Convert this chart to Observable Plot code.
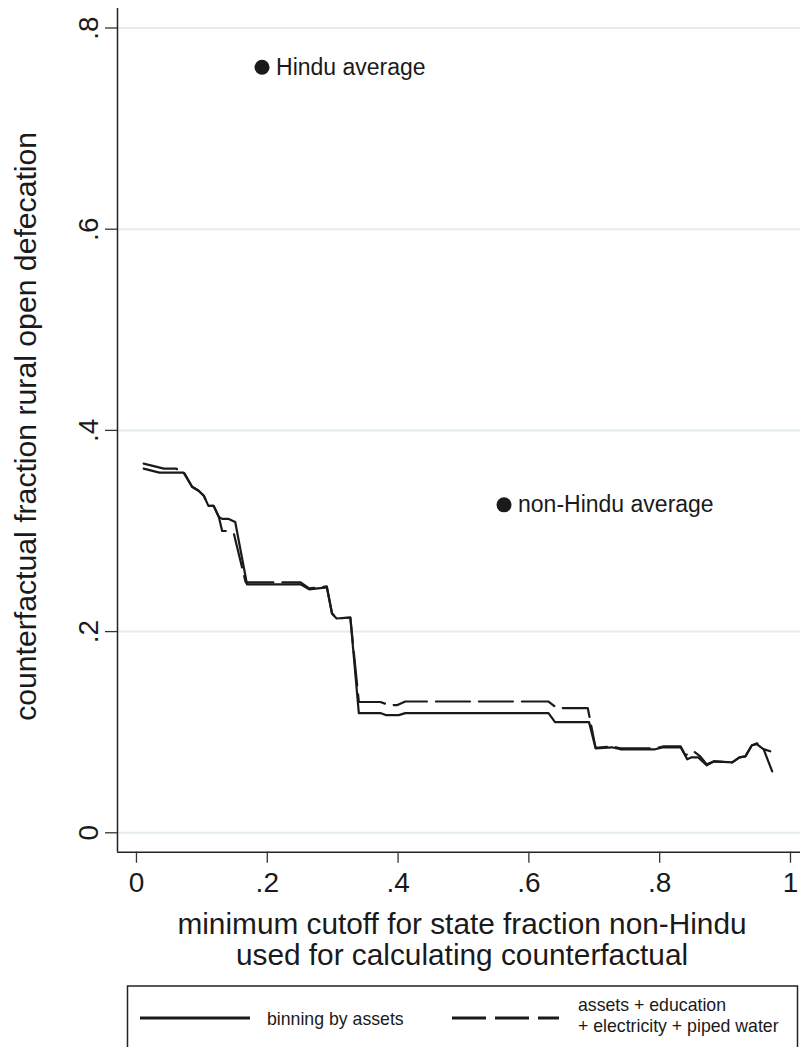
<!DOCTYPE html>
<html><head><meta charset="utf-8">
<script src="https://cdn.jsdelivr.net/npm/d3@7"></script>
<script src="https://cdn.jsdelivr.net/npm/@observablehq/plot@0.6"></script>
<style>
body{margin:0;background:#fff;font-family:"Liberation Sans",Arial,sans-serif;}
#wrap{width:804px;height:1047px;overflow:hidden;}
#wrap svg{display:block;}
</style></head><body><div id="wrap"></div>
<script>
// binning by assets (solid)
const assetsX = [0.011,0.035,0.072,0.085,0.095,0.103,0.110,0.118,0.126,0.131,0.141,0.151,0.169,0.251,0.264,0.291,0.299,0.306,0.327,0.340,0.373,0.381,0.401,0.411,0.630,0.640,0.692,0.702,0.727,0.740,0.793,0.806,0.832,0.839,0.842,0.849,0.859,0.872,0.883,0.911,0.922,0.931,0.941,0.949,0.959,0.972];
const assetsY = [0.362,0.358,0.358,0.344,0.340,0.335,0.325,0.325,0.314,0.312,0.312,0.309,0.247,0.247,0.242,0.244,0.218,0.213,0.214,0.119,0.119,0.117,0.117,0.119,0.119,0.110,0.110,0.084,0.085,0.083,0.083,0.085,0.085,0.077,0.073,0.075,0.075,0.067,0.071,0.070,0.075,0.076,0.087,0.088,0.083,0.061];
// assets + education + electricity + piped water (dashed)
const eduX = [0.011,0.042,0.060,0.072,0.085,0.095,0.103,0.110,0.118,0.126,0.131,0.137,0.149,0.167,0.251,0.264,0.291,0.299,0.306,0.327,0.340,0.373,0.386,0.399,0.411,0.630,0.643,0.690,0.702,0.727,0.740,0.793,0.806,0.832,0.839,0.852,0.862,0.872,0.883,0.911,0.922,0.931,0.941,0.949,0.959,0.969];
const eduY = [0.367,0.362,0.362,0.359,0.344,0.340,0.335,0.325,0.325,0.314,0.300,0.300,0.297,0.249,0.249,0.243,0.245,0.218,0.213,0.214,0.130,0.130,0.127,0.127,0.1305,0.1305,0.124,0.124,0.0845,0.086,0.084,0.084,0.086,0.086,0.077,0.081,0.076,0.068,0.071,0.070,0.075,0.076,0.087,0.089,0.083,0.081];

const pointLabels = ["Hindu average", "non-Hindu average"];
const pointX = [0.192, 0.562];
const pointY = [0.761, 0.326];

const xTicks = [0, 0.2, 0.4, 0.6, 0.8, 1];
const xTickLabels = ["0", ".2", ".4", ".6", ".8", "1"];
const yTicks = [0, 0.2, 0.4, 0.6, 0.8];
const yTickLabels = ["0", ".2", ".4", ".6", ".8"];
const xDomain = [-0.029, 1.0153];
const yDomain = [-0.0193, 0.8194];

const seriesNames = ["binning by assets", "assets + education\n+ electricity + piped water"];
const xTitle = "minimum cutoff for state fraction non-Hindu\nused for calculating counterfactual";
const yTitle = "counterfactual fraction rural open defecation";

const ink = "#1a1a1a";
const solid = assetsX.map((x, i) => ({x, y: assetsY[i]}));
const dashed = eduX.map((x, i) => ({x, y: eduY[i]}));
const pts = pointX.map((x, i) => ({x, y: pointY[i], label: pointLabels[i]}));

const plot = Plot.plot({
  width: 804, height: 975,
  marginLeft: 117, marginRight: 4, marginTop: 8, marginBottom: 123.3,
  x: {domain: xDomain},
  y: {domain: yDomain},
  style: {fontFamily: "'Liberation Sans', Arial, sans-serif", background: "white", color: ink},
  marks: [
    Plot.gridY(yTicks, {stroke: "#e3ecef", strokeOpacity: 1, strokeWidth: 2}),
    Plot.ruleY([yDomain[0]], {stroke: "#222", strokeWidth: 1.5}),
    Plot.ruleX([xDomain[0]], {stroke: "#222", strokeWidth: 1.5}),
    Plot.axisX(xTicks, {tickFormat: d => xTickLabels[xTicks.indexOf(d)], tickSize: 11, tickPadding: 9, fontSize: 28, label: null, stroke: "#333", strokeWidth: 1.3, fill: ink}),
    Plot.axisY(yTicks, {tickFormat: d => yTickLabels[yTicks.indexOf(d)], tickRotate: -90, tickSize: 12, tickPadding: 8, fontSize: 28, label: null, stroke: "#333", strokeWidth: 1.3, fill: ink}),
    Plot.text([xTitle], {frameAnchor: "bottom", dx: 3, dy: 59, lineAnchor: "top", textAnchor: "middle", fontSize: 29.8, lineHeight: 1.065, fill: ink}),
    Plot.text([yTitle], {frameAnchor: "left", dx: -103, dy: -4, rotate: -90, lineAnchor: "top", textAnchor: "middle", fontSize: 30.2, fill: ink}),
    Plot.line(solid, {x: "x", y: "y", stroke: ink, strokeWidth: 2.2, curve: "linear"}),
    Plot.line(dashed, {x: "x", y: "y", stroke: ink, strokeWidth: 2.2, strokeDasharray: "34,9", curve: "linear"}),
    Plot.dot(pts, {x: "x", y: "y", r: 7.5, fill: ink, stroke: null}),
    Plot.text(pts, {x: "x", y: "y", text: "label", dx: 14, textAnchor: "start", fontSize: 23, fill: ink})
  ]
});
document.getElementById("wrap").appendChild(plot);

// legend below the plot
const leg = d3.select("#wrap").append("svg").attr("width", 804).attr("height", 72)
  .style("font-family", "'Liberation Sans', Arial, sans-serif");
leg.append("rect").attr("x", 127.5).attr("y", 11).attr("width", 670).attr("height", 100)
  .attr("fill", "white").attr("stroke", "#222").attr("stroke-width", 1.5);
leg.append("line").attr("x1", 140).attr("x2", 250).attr("y1", 43).attr("y2", 43)
  .attr("stroke", ink).attr("stroke-width", 3);
leg.append("text").attr("x", 267).attr("y", 49.5).attr("font-size", 17.7).attr("fill", ink).text(seriesNames[0]);
leg.append("line").attr("x1", 452).attr("x2", 559).attr("y1", 43).attr("y2", 43)
  .attr("stroke", ink).attr("stroke-width", 3).attr("stroke-dasharray", "34,9");
const t2 = leg.append("text").attr("x", 578).attr("y", 36).attr("font-size", 17.7).attr("fill", ink);
seriesNames[1].split("\n").forEach((s, i) => {
  t2.append("tspan").attr("x", 578).attr("dy", i === 0 ? 0 : 21).text(s);
});
</script></body></html>
